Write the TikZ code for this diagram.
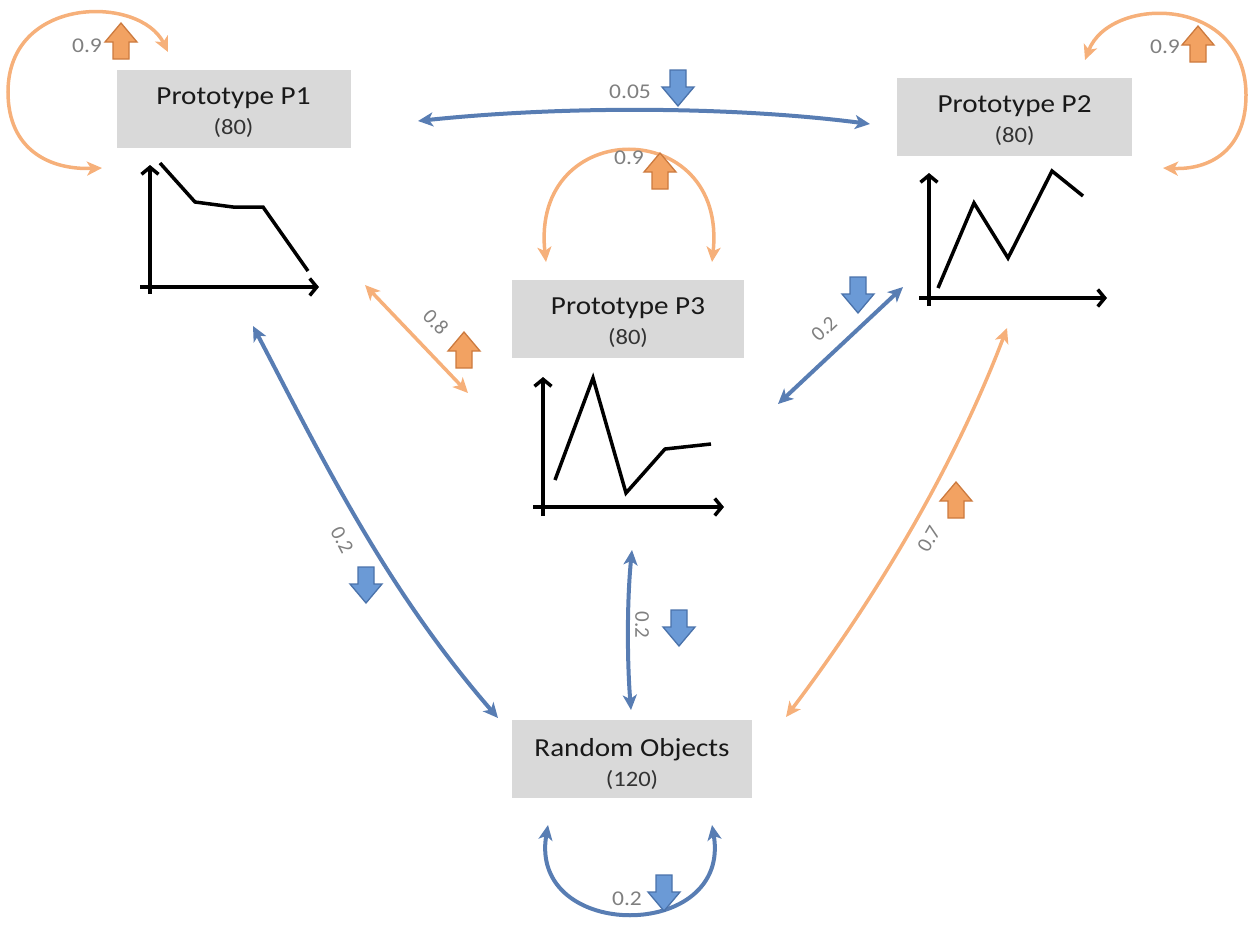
\documentclass[tikz,border=0pt]{standalone}
\usepackage{fontspec}
\setmainfont{Carlito}
\usetikzlibrary{arrows.meta}
\definecolor{boxgray}{HTML}{D9D9D9}
\definecolor{lblue}{HTML}{587DB3}
\definecolor{lorange}{HTML}{F6B07A}
\definecolor{iblue}{HTML}{6B9AD6}
\definecolor{iblueb}{HTML}{4A72AA}
\definecolor{iorange}{HTML}{F2A262}
\definecolor{iorangeb}{HTML}{CC7A3E}
\definecolor{labgray}{HTML}{7F7F7F}
\newcommand{\strtxt}[1]{\scalebox{1.12}[1]{#1}}
\begin{document}
\begin{tikzpicture}[x=1pt,y=-1pt,
  box/.style={fill=boxgray, draw=none, inner sep=0pt, minimum height=78pt},
  titletext/.style={anchor=base, font=\fontsize{26}{30}\selectfont, text=black!90, inner sep=0pt},
  counttext/.style={anchor=base, font=\fontsize{22}{26}\selectfont, text=black!80, inner sep=0pt},
  lab/.style={font=\fontsize{21}{25}\selectfont, text=labgray, inner sep=0pt},
  bconn/.style={draw=lblue, line width=4pt, >={Stealth[length=15pt,width=14pt,inset=4pt]}, <->},
  oconn/.style={draw=lorange, line width=3.5pt, >={Stealth[length=15pt,width=14pt,inset=4pt]}, <->},
  axisline/.style={draw=black, line width=3.5pt, -{Straight Barb[length=7pt,width=17pt]}},
  chartline/.style={draw=black, line width=3.5pt, line join=miter},
  upicon/.pic={\filldraw[fill=iorange, draw=iorangeb, line width=1.3pt, line join=miter]
     (-8,18) -- (8,18) -- (8,1) -- (16,1) -- (0,-18) -- (-16,1) -- (-8,1) -- cycle;},
  downicon/.pic={\filldraw[fill=iblue, draw=iblueb, line width=1.3pt, line join=miter]
     (-8,-18) -- (8,-18) -- (8,-1) -- (16,-1) -- (0,18) -- (-16,-1) -- (-8,-1) -- cycle;}
]
\useasboundingbox (0,0) rectangle (1252,930);

% boxes
\node[box, minimum width=234pt] (p1) at (233.5,109) {};
\node[box, minimum width=235pt] (p2) at (1014.5,117) {};
\node[box, minimum width=232pt] (p3) at (628,319) {};
\node[box, minimum width=240pt] (ro) at (632,759) {};

\node[titletext] (p1t) at (233.5,104) {\strtxt{Prototype P1}};
\node[counttext] (p1c) at (233.5,134) {\strtxt{(80)}};
\node[titletext] (p2t) at (1014.5,112) {\strtxt{Prototype P2}};
\node[counttext] (p2c) at (1014.5,142) {\strtxt{(80)}};
\node[titletext] (p3t) at (628,314) {\strtxt{Prototype P3}};
\node[counttext] (p3c) at (628,344) {\strtxt{(80)}};
\node[titletext] (rot) at (632,756) {\strtxt{Random Objects}};
\node[counttext] (roc) at (632,786) {\strtxt{(120)}};

% charts
\draw[axisline] (150,294) -- (150,165);
\draw[axisline] (140,287) -- (319,287);
\draw[chartline] (160,163) -- (195,202) -- (233,207) -- (263,207) -- (308,271);

\draw[axisline] (929,306) -- (929,173);
\draw[axisline] (919,298) -- (1107,298);
\draw[chartline] (938,288) -- (974,203) -- (1008,258) -- (1052,171) -- (1083,196);

\draw[axisline] (543,516) -- (543,377);
\draw[axisline] (533,507) -- (724,507);
\draw[chartline] (555,480) -- (593,378) -- (626,493) -- (665,449) -- (711,444);

% connector end points
\coordinate (a12) at (418,121);
\coordinate (b12) at (870,124);
\coordinate (l1a) at (168,52);
\coordinate (l1m) at (8,92);
\coordinate (l1b) at (102,168);
\coordinate (l2a) at (1085,60);
\coordinate (l2m) at (1246,95);
\coordinate (l2b) at (1163,168);
\coordinate (l3a) at (546,262);
\coordinate (l3b) at (712,262);
\coordinate (l4a) at (548,825);
\coordinate (l4b) at (712,825);
\coordinate (a13) at (365,285);
\coordinate (b13) at (468,393);
\coordinate (a32) at (778,404);
\coordinate (b32) at (903,287);
\coordinate (a1r) at (253,326);
\coordinate (b1r) at (498,718);
\coordinate (a3r) at (632,550);
\coordinate (b3r) at (631,710);
\coordinate (a2r) at (1007,328);
\coordinate (b2r) at (786,717);

% connectors
\draw[bconn] (a12) .. controls (560,106) and (730,106) .. (b12);
\draw[oconn] (l1a) .. controls (140,-5) and (8,-5) .. (l1m) .. controls (8,150) and (50,170) .. (l1b);
\draw[oconn] (l2a) .. controls (1110,-5) and (1246,-5) .. (l2m) .. controls (1246,150) and (1210,170) .. (l2b);
\draw[oconn] (l3a) .. controls (530,115) and (728,115) .. (l3b);
\draw[bconn] (l4a) .. controls (528,942) and (732,942) .. (l4b);
\draw[oconn] (a13) -- (b13);
\draw[bconn] (a32) -- (b32);
\draw[bconn] (a1r) .. controls (321,456) and (385,588) .. (b1r);
\draw[bconn] (a3r) .. controls (627,600) and (627,660) .. (b3r);
\draw[oconn] (a2r) .. controls (958,457) and (884,587) .. (b2r);

% labels
\node[lab] (w1) at (87,46) {\strtxt{0.9}};
\node[lab] (w2) at (1165,47) {\strtxt{0.9}};
\node[lab] (w12) at (630,92) {\strtxt{0.05}};
\node[lab] (w3) at (629,158) {\strtxt{0.9}};
\node[lab, rotate=-46] (w13) at (436,322) {0.8};
\node[lab, rotate=43] (w32) at (824,329) {0.2};
\node[lab, rotate=-62] (w1r) at (342,540) {0.2};
\node[lab, rotate=-90] (w3r) at (642,625) {0.2};
\node[lab, rotate=60] (w2r) at (929,539) {0.7};
\node[lab] (w4) at (627,899) {\strtxt{0.2}};

% icons
\pic (i1) at (121,41) {upicon};
\pic (i2) at (1198,44) {upicon};
\pic (i12) at (678,88) {downicon};
\pic (i3) at (660,171) {upicon};
\pic (i13) at (464,350) {upicon};
\pic (i32) at (858,295) {downicon};
\pic (i1r) at (366,585) {downicon};
\pic (i3r) at (679,628) {downicon};
\pic (i2r) at (956,500) {upicon};
\pic (i4) at (664,893) {downicon};
\end{tikzpicture}
\end{document}
